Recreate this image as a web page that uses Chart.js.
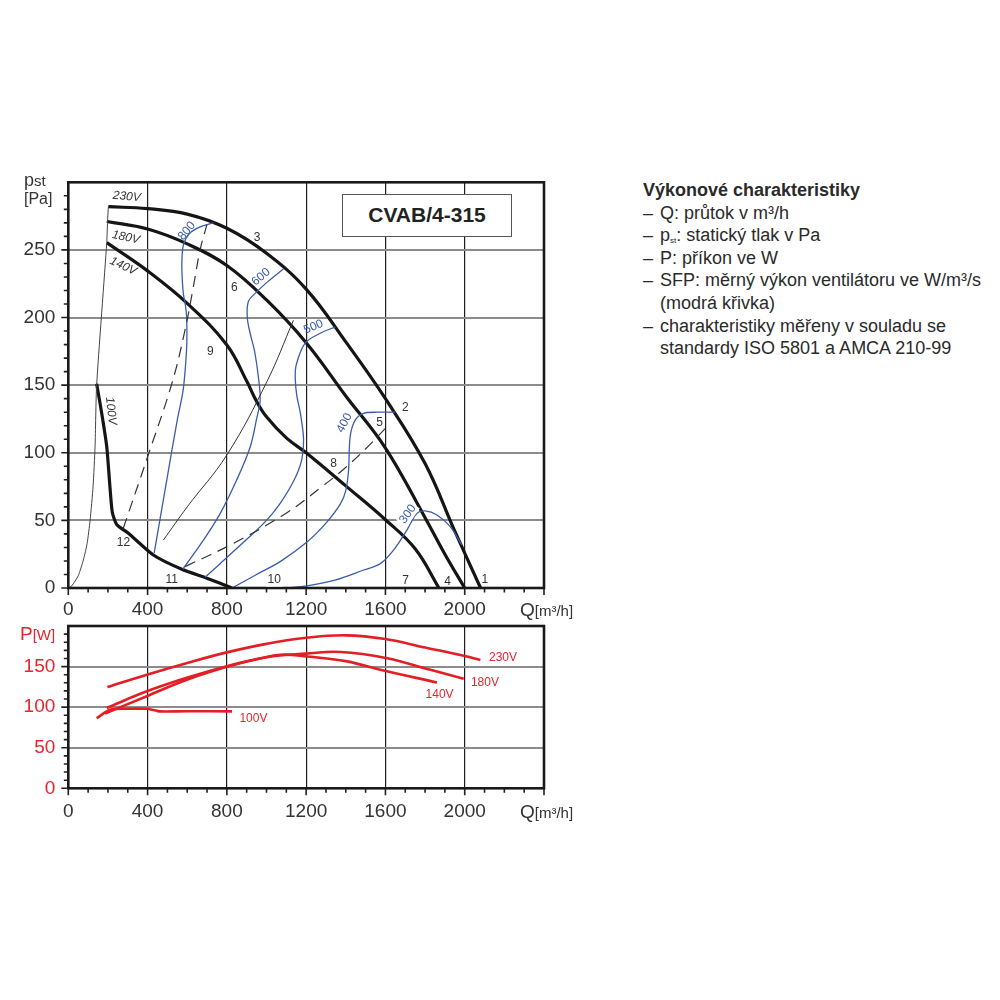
<!DOCTYPE html>
<html><head><meta charset="utf-8">
<script src="https://cdn.jsdelivr.net/npm/chart.js@4.4.1/dist/chart.umd.min.js"></script>
<style>
html,body{margin:0;padding:0;background:#fff;width:1000px;height:1000px;overflow:hidden;font-family:"Liberation Sans",Arial,sans-serif;color:#2a2a2a;}
canvas{position:absolute;left:0;}
#c1{top:170px;}
#c2{top:615px;}
.t{position:absolute;white-space:nowrap;}
#box{position:absolute;left:342px;top:194px;width:170px;height:43px;box-sizing:border-box;border:1.5px solid #555;background:#fff;text-align:center;font-weight:bold;font-size:21px;line-height:40px;color:#222;}
#info{position:absolute;left:643px;top:179px;font-size:18px;line-height:22.6px;color:#2a2a2a;}
#info .it{padding-left:17px;text-indent:-17px;}
#info .d{display:inline-block;width:17px;text-indent:0;}
</style></head>
<body>
<canvas id="c1" width="600" height="450"></canvas>
<canvas id="c2" width="600" height="230"></canvas>
<div id="box">CVAB/4-315</div>
<div class="t" style="left:24px;top:172px;font-size:18px;line-height:17px;color:#333;">p<span style="font-size:15px">st</span></div>
<div class="t" style="left:24px;top:191px;font-size:16px;line-height:16px;color:#333;">[Pa]</div>
<div class="t" style="left:520px;top:600px;font-size:19px;line-height:19px;color:#333;">Q<span style="font-size:15px">[m³/h]</span></div>
<div class="t" style="left:520px;top:802px;font-size:19px;line-height:19px;color:#333;">Q<span style="font-size:15px">[m³/h]</span></div>
<div class="t" style="left:20px;top:624px;font-size:19px;line-height:19px;color:#e8232b;">P<span style="font-size:15px">[W]</span></div>
<div id="info">
<div><b>Výkonové charakteristiky</b></div>
<div class="it"><span class="d">–</span>Q: průtok v m³/h</div>
<div class="it"><span class="d">–</span>p<span style="font-size:8px;line-height:0;vertical-align:-2px">st</span>: statický tlak v Pa</div>
<div class="it"><span class="d">–</span>P: příkon ve W</div>
<div class="it"><span class="d">–</span>SFP: měrný výkon ventilátoru ve W/m³/s (modrá křivka)</div>
<div class="it"><span class="d">–</span>charakteristiky měřeny v souladu se standardy ISO 5801 a AMCA 210-99</div>
</div>
<script>
// ---------- DATA (Q in m3/h, p in Pa / P in W) ----------
const xTickLabels = [0, 400, 800, 1200, 1600, 2000];
const pTickLabels = [0, 50, 100, 150, 200, 250];
const wTickLabels = [0, 50, 100, 150];

const fan230 = [[202,282],[400,280.5],[600,276.5],[800,266],[1000,247.5],[1200,221],[1400,182],[1600,140],[1800,92],[1950,42],[2080,0]];
const fan180 = [[194,271],[400,265.5],[600,254.5],[800,238.5],[1000,213],[1200,181.4],[1400,142],[1600,103.5],[1800,52],[1900,25],[2000,0]];
const fan140 = [[194,255.4],[400,234.5],[600,210.5],[800,179.7],[900,153],[950,138],[1000,126.6],[1100,111],[1200,100],[1400,75.5],[1600,50.5],[1750,29],[1870,0]];
const fan100 = [[143,151],[170,128],[194,104.5],[210,75],[222,56],[244,47],[303,40.5],[429,24.4],[573,13.8],[699,7.2],[826,0]];
const stallLine = [[0,0],[17,1.5],[50,9],[76,20.7],[95,33],[110,50],[125,75],[135,104.5],[143,150],[194,255.4],[198,271],[202,282]];
const dashLine1 = [[277,44],[400,97],[522,151],[589,190.8],[631,222.8],[665,250],[699,268.5]];
const dashLine2 = [[589,15.8],[833,33],[1103,55.7],[1280,75],[1389,87.8],[1498,102.6],[1600,118]];
const thinLine = [[480,35.5],[600,60],[800,98.4],[1002,152.6],[1136,198]];
const sfp800 = [[433,25.6],[497,80],[547,122],[578,145],[589,160],[598,181],[597,200],[590,210],[581,217],[575,228],[573,241],[581,253.7],[610,262],[665,267],[732,270]];
const sfp600 = [[578,14],[680,35],[766,55],[850,80],[918,104.5],[950,125],[968,139],[959,156],[940,175],[918,188],[903,200],[909,212],[951,219],[1002,226],[1086,236]];
const sfp500 = [[690,8],[766,18],[900,36],[1000,50],[1069,62.6],[1140,80],[1178,95],[1187,110],[1170,130],[1153,142],[1145,155],[1150,165],[1195,181],[1271,188.4],[1347,193]];
const sfp400 = [[826,0],[950,10],[1069,19.5],[1204,34],[1300,48],[1372,62],[1400,72],[1414,87.3],[1422,112],[1448,124.3],[1490,129.2],[1560,130],[1650,130]];
const sfp300 = [[1103,0],[1204,1.5],[1350,6],[1490,13.3],[1574,18],[1641,28],[1709,43],[1759,55.3],[1801,57],[1860,54],[1927,45.4],[1986,31.8]];

const pow230 = [[197,124.7],[396,140],[600,154.5],[800,167.5],[1000,178],[1200,185.5],[1400,188.5],[1600,184],[1800,173.5],[2000,163],[2079,158]];
const pow180 = [[194,99],[396,119.5],[598,136.2],[800,150.5],[1000,161.5],[1200,166],[1372,168],[1603,160.6],[1827,146],[1995,135]];
const pow140 = [[185,92],[396,113.5],[598,133.8],[800,149.8],[968,160],[1070,164.6],[1204,162.5],[1406,156.4],[1574,146],[1860,130.4]];
const pow100 = [[143,86.4],[211,96.7],[295,98],[396,98],[430,96.5],[460,94.8],[600,95],[826,94.8]];

// ---------- annotation text (anchored in data units) ----------
const topLabels = [
  {t:'1',q:2101,v:6.4},{t:'2',q:1700,v:133.6},{t:'3',q:952,v:259.4},{t:'4',q:1914,v:4.7},
  {t:'5',q:1571,v:122.3},{t:'6',q:838,v:222.4},{t:'7',q:1702,v:5.2},{t:'8',q:1338,v:92},
  {t:'9',q:716,v:174.8},{t:'10',q:1039,v:5.9,bg:1},{t:'11',q:522,v:5.9,bg:1},{t:'12',q:278,v:33.5},
  {t:'230V',q:295,v:289.4,rot:5,it:1},{t:'180V',q:290,v:259.2,rot:12,it:1},{t:'140V',q:277,v:238,rot:25,it:1},{t:'100V',q:215,v:131,rot:84,it:1},
  {t:'800',q:598,v:264,rot:-50,c:'#3a5daa'},{t:'600',q:972,v:230,rot:-40,c:'#3a5daa'},{t:'500',q:1237,v:193,rot:-22,c:'#3a5daa'},
  {t:'400',q:1393,v:122,rot:-62,c:'#3a5daa',bg:1},{t:'300',q:1713,v:54.6,rot:-55,c:'#3a5daa',bg:1}
];
const botLabels = [
  {t:'230V',q:2193,v:160.5,c:'#e8232b'},{t:'180V',q:2102,v:129.6,c:'#e8232b'},
  {t:'140V',q:1873,v:115.2,c:'#e8232b'},{t:'100V',q:934,v:85.3,c:'#e8232b'}
];

const pts = a => a.map(p => ({x:p[0], y:p[1]}));
const BLACK='#151515', BLUE='#3a5daa', RED='#e41e25';
function ds(arr, color, w, extra){ return Object.assign({data:pts(arr), borderColor:color, borderWidth:w, showLine:true, pointRadius:0, tension:0.4, fill:false}, extra||{}); }

const deco = {
  id:'deco',
  afterDraw(chart, args, o){
    const {ctx, chartArea:a, scales:{x,y}} = chart;
    ctx.save();
    ctx.strokeStyle='#222'; ctx.lineWidth=1.6;
    ctx.beginPath();
    for(let v=0; v<=x.max; v+=100){ const px=x.getPixelForValue(v); const L=(v%400===0)?7:4.5; ctx.moveTo(px,a.bottom); ctx.lineTo(px,a.bottom+L); }
    for(let v=0; v<y.max; v+=10){ const py=y.getPixelForValue(v); const L=(v%50===0)?7:4.5; ctx.moveTo(a.left-L,py); ctx.lineTo(a.left,py); }
    ctx.stroke();
    ctx.lineWidth=2.6; ctx.strokeStyle='#1a1a1a';
    ctx.strokeRect(a.left,a.top,a.right-a.left,a.bottom-a.top);
    for(const l of o.labels){
      const px=x.getPixelForValue(l.q), py=y.getPixelForValue(l.v);
      ctx.save(); ctx.translate(px,py); ctx.rotate((l.rot||0)*Math.PI/180);
      ctx.font=(l.it?'italic ':'')+'12px "Liberation Sans", Arial, sans-serif';
      ctx.textAlign='center'; ctx.textBaseline='middle';
      if(l.bg){ const w=ctx.measureText(l.t).width; ctx.fillStyle='#fff'; ctx.fillRect(-w/2-1.5,-6.5,w+3,13); }
      ctx.fillStyle=l.c||'#333'; ctx.fillText(l.t,0,0);
      ctx.restore();
    }
    ctx.restore();
  }
};

const fontTick = {family:'"Liberation Sans", Arial, sans-serif', size:19};
function xScale(h, pad){
  return {type:'linear', min:0, max:2400,
    afterFit:s=>{s.height=h; s.paddingLeft=0; s.paddingRight=0; s.paddingTop=0; s.paddingBottom=0;},
    ticks:{stepSize:400, autoSkip:false, maxRotation:0, padding:pad, color:'#333', font:fontTick,
      callback:v=> xTickLabels.includes(v)? String(v):''},
    grid:{drawTicks:false, lineWidth:1.2, color:c=>(c.tick && c.tick.value>0 && c.tick.value<2400)?'#1e1e1e':'rgba(0,0,0,0)'},
    border:{display:false}};
}
function yScale(max, labels, col){
  return {type:'linear', min:0, max:max,
    afterFit:s=>{s.width=68.3; s.paddingTop=0; s.paddingBottom=0; s.paddingLeft=0; s.paddingRight=0;},
    ticks:{stepSize:50, autoSkip:false, padding:13, color:col, font:fontTick,
      callback:v=> labels.includes(v)? String(v):''},
    grid:{drawTicks:false, lineWidth:2, color:c=>(c.tick && c.tick.value>0 && c.tick.value<max)?'#8c8c8c':'rgba(0,0,0,0)'},
    border:{display:false}};
}

new Chart(document.getElementById('c1'), {
  type:'scatter',
  data:{datasets:[
    ds(stallLine,'#444',1,{tension:0.2}),
    ds(thinLine,'#333',1),
    ds(dashLine1,'#333',1.2,{borderDash:[11,7]}),
    ds(dashLine2,'#333',1.2,{borderDash:[11,7]}),
    ds(sfp800,BLUE,1.3,{tension:0.35}),
    ds(sfp600,BLUE,1.3,{tension:0.35}),
    ds(sfp500,BLUE,1.3,{tension:0.35}),
    ds(sfp400,BLUE,1.3,{tension:0.3}),ds(sfp300,BLUE,1.3,{tension:0.35}),
    ds(fan230,BLACK,3.2),ds(fan180,BLACK,3.2),ds(fan140,BLACK,3.2),ds(fan100,BLACK,3.2,{tension:0.2})
  ]},
  options:{responsive:false, animation:false, events:[],
    layout:{padding:{top:12.3,right:56,left:0,bottom:0}},
    plugins:{legend:{display:false}, tooltip:{enabled:false}, deco:{labels:topLabels}},
    scales:{x:xScale(32,10), y:yScale(300,pTickLabels,'#333')}},
  plugins:[deco]
});

new Chart(document.getElementById('c2'), {
  type:'scatter',
  data:{datasets:[
    ds(pow230,RED,2.6),ds(pow180,RED,2.6),ds(pow140,RED,2.6),ds(pow100,RED,2.6,{tension:0.3})
  ]},
  options:{responsive:false, animation:false, events:[],
    layout:{padding:{top:11,right:56,left:0,bottom:0}},
    plugins:{legend:{display:false}, tooltip:{enabled:false}, deco:{labels:botLabels}},
    scales:{x:xScale(56.7,12), y:yScale(200,wTickLabels,'#e8232b')}},
  plugins:[deco]
});
</script>
</body></html>
